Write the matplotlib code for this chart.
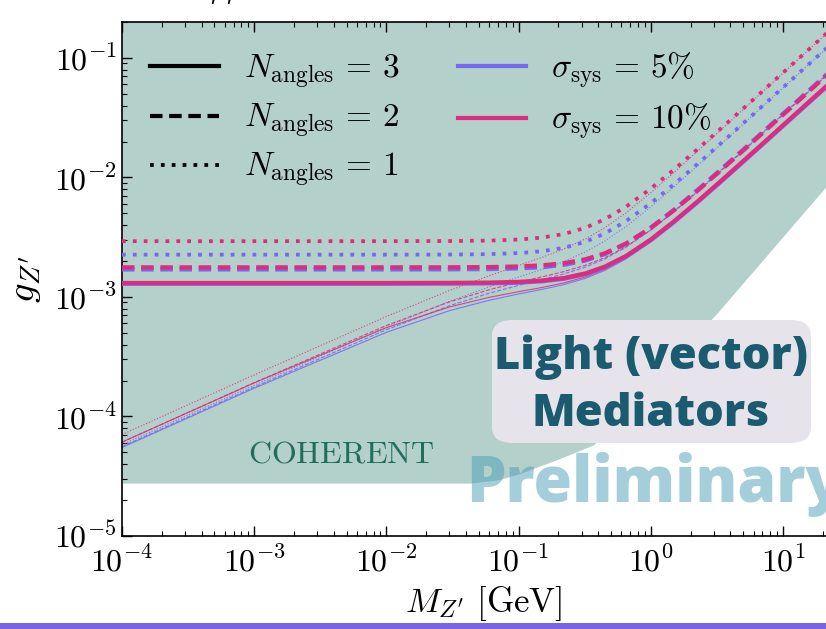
import math
import matplotlib
matplotlib.use('Agg')
import matplotlib.pyplot as plt
from matplotlib.patches import FancyBboxPatch, Rectangle
from matplotlib.ticker import FuncFormatter, LogLocator, NullFormatter

plt.rcParams['mathtext.fontset'] = 'cm'
plt.rcParams['font.family'] = ['DejaVu Serif']

# mediator mass grid [GeV]
mass = [1e-4, 1e-3, 1e-2, 0.03, 0.06, 0.1, 0.15, 0.22, 0.32, 0.45, 0.65,
        1.0, 1.5, 2.3, 3.5, 5.5, 9, 14, 22, 30]

# thick curves
pink_n3 = [1.31e-3, 1.31e-3, 1.31e-3, 1.313e-3, 1.320e-3, 1.338e-3, 1.372e-3, 1.441e-3, 1.574e-3, 1.796e-3,
           2.205e-3, 3.027e-3, 4.298e-3, 6.412e-3, 9.642e-3, 1.507e-2, 2.460e-2, 3.823e-2, 6.006e-2, 8.19e-2]
blue_n3 = [1.29e-3, 1.29e-3, 1.29e-3, 1.293e-3, 1.300e-3, 1.318e-3, 1.352e-3, 1.419e-3, 1.550e-3, 1.768e-3,
           2.172e-3, 2.981e-3, 4.232e-3, 6.315e-3, 9.494e-3, 1.484e-2, 2.422e-2, 3.764e-2, 5.915e-2, 8.06e-2]
pink_n2 = [1.77e-3, 1.77e-3, 1.77e-3, 1.773e-3, 1.781e-3, 1.801e-3, 1.840e-3, 1.916e-3, 2.068e-3, 2.322e-3,
           2.801e-3, 3.780e-3, 5.313e-3, 7.882e-3, 1.182e-2, 1.845e-2, 3.011e-2, 4.678e-2, 7.349e-2, 0.1002]
blue_n2 = [1.70e-3, 1.70e-3, 1.70e-3, 1.703e-3, 1.712e-3, 1.734e-3, 1.775e-3, 1.857e-3, 2.018e-3, 2.287e-3,
           2.788e-3, 3.801e-3, 5.376e-3, 8.003e-3, 1.202e-2, 1.878e-2, 3.065e-2, 4.763e-2, 7.482e-2, 0.1020]
pink_n1 = [2.93e-3, 2.93e-3, 2.93e-3, 2.939e-3, 2.965e-3, 3.025e-3, 3.139e-3, 3.364e-3, 3.790e-3, 4.474e-3,
           5.695e-3, 8.064e-3, 1.164e-2, 1.753e-2, 2.646e-2, 4.142e-2, 6.768e-2, 0.1052, 0.1653, 0.2254]
blue_n1 = [2.26e-3, 2.26e-3, 2.26e-3, 2.266e-3, 2.285e-3, 2.330e-3, 2.414e-3, 2.579e-3, 2.894e-3, 3.402e-3,
           4.312e-3, 6.085e-3, 8.771e-3, 1.319e-2, 1.990e-2, 3.116e-2, 5.090e-2, 7.913e-2, 0.1243, 0.1695]

# thin curves
pink_n3_thin = [6.10e-5, 1.911e-4, 5.536e-4, 8.249e-4, 9.93e-4, 1.107e-3, 1.200e-3, 1.311e-3, 1.472e-3, 1.711e-3,
                2.131e-3, 2.960e-3, 4.234e-3, 6.349e-3, 9.579e-3, 1.501e-2, 2.454e-2, 3.817e-2, 6.000e-2, 8.18e-2]
blue_n3_thin = [5.50e-5, 1.724e-4, 5.060e-4, 7.682e-4, 9.390e-4, 1.059e-3, 1.157e-3, 1.269e-3, 1.432e-3, 1.669e-3,
                2.086e-3, 2.902e-3, 4.157e-3, 6.241e-3, 9.420e-3, 1.477e-2, 2.415e-2, 3.756e-2, 5.908e-2, 8.05e-2]
pink_n2_thin = [6.10e-5, 1.920e-4, 5.773e-4, 9.096e-4, 1.150e-3, 1.328e-3, 1.473e-3, 1.630e-3, 1.841e-3, 2.132e-3,
                2.636e-3, 3.631e-3, 5.170e-3, 7.742e-3, 1.168e-2, 1.831e-2, 2.997e-2, 4.664e-2, 7.335e-2, 0.1001]
blue_n2_thin = [5.60e-5, 1.763e-4, 5.323e-4, 8.445e-4, 1.076e-3, 1.251e-3, 1.397e-3, 1.559e-3, 1.778e-3, 2.084e-3,
                2.610e-3, 3.637e-3, 5.218e-3, 7.848e-3, 1.187e-2, 1.862e-2, 3.049e-2, 4.747e-2, 7.466e-2, 0.1018]
pink_n1_thin = [7.06e-5, 2.228e-4, 6.868e-4, 1.133e-3, 1.508e-3, 1.834e-3, 2.142e-3, 2.520e-3, 3.057e-3, 3.806e-3,
                5.065e-3, 7.449e-3, 1.103e-2, 1.691e-2, 2.583e-2, 4.079e-2, 6.704e-2, 0.1046, 0.1647, 0.2248]
blue_n1_thin = [5.80e-5, 1.827e-4, 5.616e-4, 9.200e-4, 1.216e-3, 1.468e-3, 1.701e-3, 1.983e-3, 2.383e-3, 2.941e-3,
                3.882e-3, 5.669e-3, 8.358e-3, 1.277e-2, 1.948e-2, 3.074e-2, 5.047e-2, 7.870e-2, 0.1239, 0.1691]

# COHERENT excluded region (lower edge)
coh_mass = [1e-4, 0.043, 0.07, 0.1, 0.2, 0.37, 1.0, 3.2, 21, 40]
coh_g = [2.77e-5, 2.77e-5, 2.95e-5, 3.3e-5, 4.4e-5, 5.8e-5, 1.9e-4, 7.4e-4, 8.3e-3, 1.8e-2]

PINK = '#e02a7d'
BLUE = '#7866f0'

fig = plt.figure(figsize=(8.26, 6.29), dpi=100)
# the slide crops the axes on the right
ax = fig.add_axes([122 / 826, 93 / 629, 724 / 826, 514 / 629])
ax.set_xscale('log')
ax.set_yscale('log')
ax.set_xlim(1e-4, 30)
ax.set_ylim(1e-5, 0.2)

ax.fill_between(coh_mass, coh_g, 1, color='#b3d0ca', lw=0, zorder=0)
ax.text(4.6e-3, 4.9e-5, r'$\mathrm{COHERENT}$', color='#1f6d5d', fontsize=23,
        ha='center', va='center')

dash = (0, (3, 1.6))
dot = (0, (1, 1.9))
# thin lines
for y, c, ls in [(blue_n3_thin, BLUE, '-'), (blue_n2_thin, BLUE, '--'), (blue_n1_thin, BLUE, ':'),
                 (pink_n3_thin, PINK, '-'), (pink_n2_thin, PINK, '--'), (pink_n1_thin, PINK, ':')]:
    ax.plot(mass, y, color=c, ls=ls, lw=0.8, alpha=0.85, zorder=2)
# thick lines
ax.plot(mass, blue_n3, color=BLUE, lw=3, zorder=3)
ax.plot(mass, pink_n3, color=PINK, lw=3, zorder=3)
ax.plot(mass, blue_n2, color=BLUE, lw=3, ls=dash, zorder=3)
ax.plot(mass, pink_n2, color=PINK, lw=3, ls=dash, zorder=3)
ax.plot(mass, blue_n1, color=BLUE, lw=2.7, ls=dot, zorder=3)
ax.plot(mass, pink_n1, color=PINK, lw=2.7, ls=dot, zorder=3)

# legend
h = []
h.append(ax.plot([], [], color='black', lw=3, label=r'$N_{\rm angles}\,=\,3$')[0])
h.append(ax.plot([], [], color='black', lw=3, ls=dash, label=r'$N_{\rm angles}\,=\,2$')[0])
h.append(ax.plot([], [], color='black', lw=2.7, ls=dot, label=r'$N_{\rm angles}\,=\,1$')[0])
h.append(ax.plot([], [], color=BLUE, lw=3, label=r'$\sigma_{\rm sys}\,=\,5\%$')[0])
h.append(ax.plot([], [], color=PINK, lw=3, label=r'$\sigma_{\rm sys}\,=\,10\%$')[0])
ax.legend(handles=h, ncol=2, loc='upper left', frameon=False, fontsize=24,
          handlelength=2.05, handletextpad=0.75, labelspacing=0.32, columnspacing=1.75,
          borderaxespad=0.45, bbox_to_anchor=(0.0, 1.0))

fmt = FuncFormatter(lambda v, p: r'$10^{%d}$' % round(math.log10(v)))
for axis in (ax.xaxis, ax.yaxis):
    axis.set_major_locator(LogLocator(base=10, numticks=20))
    axis.set_minor_locator(LogLocator(base=10, subs=range(2, 10), numticks=20))
    axis.set_major_formatter(fmt)
    axis.set_minor_formatter(NullFormatter())
ax.tick_params(which='both', direction='in', top=True, right=True, labelsize=23)
ax.tick_params(which='major', length=7, width=1)
ax.tick_params(which='minor', length=3.5, width=0.8)
ax.tick_params(axis='x', pad=8)
for s in ax.spines.values():
    s.set_linewidth(1.2)

ax.set_xlabel(r'$M_{Z^{\prime}}\ [\mathrm{GeV}]$', fontsize=25, labelpad=4)
ax.set_ylabel(r'$g_{Z^{\prime}}$', fontsize=28, labelpad=8)

fig.text(227 / 826, 1.012, r'$\mu\mu$', fontsize=20, ha='center', va='center')

# slide overlays
box = FancyBboxPatch((492 / 826, 186 / 629), 319 / 826, 123 / 629,
                     boxstyle='round,pad=0,rounding_size=0.025', transform=fig.transFigure,
                     facecolor='#e6e4ea', edgecolor='none', zorder=5)
fig.patches.append(box)
fig.text(651 / 826, 272 / 629, 'Light (vector)', fontsize=32.5, family='Open Sans', weight='heavy',
         color='#1b5b6f', ha='center', va='center', zorder=6)
fig.text(651 / 826, 214 / 629, 'Mediators', fontsize=32.5, family='Open Sans', weight='heavy',
         color='#1b5b6f', ha='center', va='center', zorder=6)
fig.text(466 / 826, 127 / 629, 'Preliminary', fontsize=45, family='Open Sans', weight='heavy',
         color='#4d9fb9', alpha=0.5, ha='left', va='baseline', zorder=7)
fig.patches.append(Rectangle((0, 0), 1, 6 / 629, transform=fig.transFigure,
                             facecolor='#7b63e6', edgecolor='none'))

fig.savefig('out.png', dpi=100)
